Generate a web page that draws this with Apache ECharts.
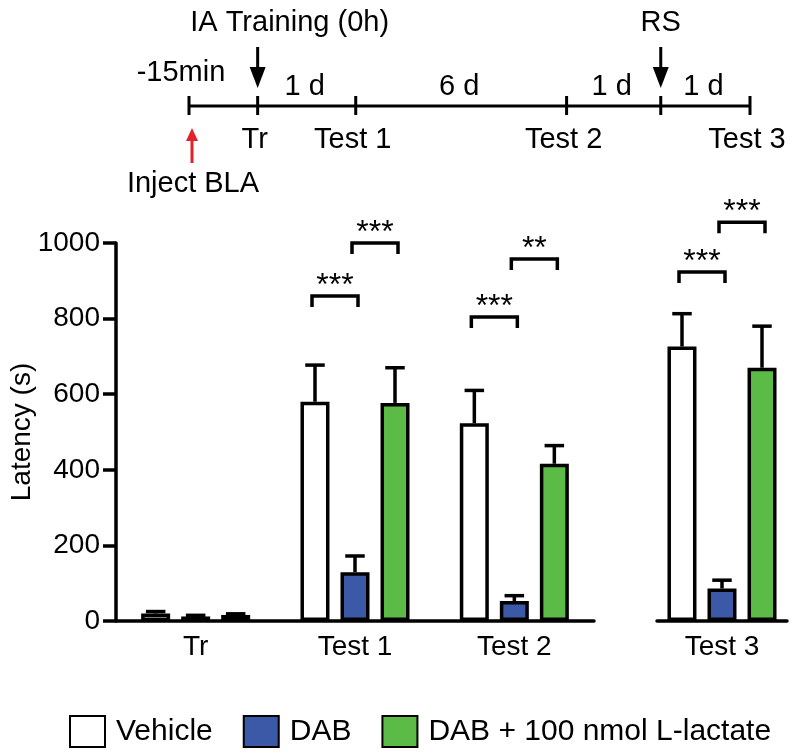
<!DOCTYPE html>
<html><head><meta charset="utf-8">
<script src="https://cdn.jsdelivr.net/npm/echarts@6/dist/echarts.min.js"></script>
<style>html,body{margin:0;padding:0;background:#fff}#c{width:798px;height:755px}</style>
</head><body><div id="c"></div>
<script>
// ---------- data ----------
const categoriesLeft = ['Tr', 'Test 1', 'Test 2'];
const categoriesRight = ['Test 3'];
const seriesNames = ['Vehicle', 'DAB', 'DAB + 100 nmol L-lactate'];
const vehicleMean = [20, 580, 523, 726];
const vehicleSem  = [5, 97, 87, 87];
const dabMean     = [12, 129, 53, 86];
const dabSem      = [3, 43, 14, 22];
const lactateMean = [16, 577, 416, 670];
const lactateSem  = [3, 93, 48, 110];
const yMin = 0, yMax = 1000, yStep = 200;
// significance brackets
const sigGroup  = [1, 1, 2, 2, 3, 3];
const sigFrom   = [0, 1, 0, 1, 0, 1];
const sigTo     = [1, 2, 1, 2, 1, 2];
const sigHeight = [860, 1000, 804, 958, 923, 1055];
const sigLabel  = ['***', '***', '***', '**', '***', '***'];
// timeline (schematic positions)
const timelineStops = [0, 0.70, 1.70, 3.85, 4.81, 5.72];
const timelineBelow = ['', 'Tr', 'Test 1', 'Test 2', '', 'Test 3'];
const timelineIntervals = ['', '1 d', '6 d', '1 d', '1 d'];
const timelineEvents = { 1: 'IA Training (0h)', 4: 'RS' };
const injectLabelTop = '-15min';
const injectLabelBottom = 'Inject BLA';

// ---------- styles ----------
const FONT = '"Liberation Sans", Arial, sans-serif';
const colors = ['#ffffff', '#3c59a8', '#5cba47'];
const means = [vehicleMean, dabMean, lactateMean];
const sems = [vehicleSem, dabSem, lactateSem];
const BAR_STEP = 40;

const chart = echarts.init(document.getElementById('c'));

function errRender(offset) {
  return function (params, api) {
    const cat = api.value(0), m = api.value(1), e = api.value(2);
    const p0 = api.coord([cat, m]);
    const p1 = api.coord([cat, m + e]);
    const x = p0[0] + offset;
    return {
      type: 'group', children: [
        { type: 'line', shape: { x1: x, y1: p0[1], x2: x, y2: p1[1] }, style: { stroke: '#000', lineWidth: 3.5 } },
        { type: 'line', shape: { x1: x - 8, y1: p1[1], x2: x + 8, y2: p1[1] }, style: { stroke: '#000', lineWidth: 3.5, lineCap: 'square' } }
      ]
    };
  };
}

function sigRender(params, api) {
  const cat = api.value(0), h = api.value(1), f = api.value(2), t = api.value(3);
  const p = api.coord([cat, h]);
  const x1 = p[0] + (f - 1) * BAR_STEP - 3;
  const x2 = p[0] + (t - 1) * BAR_STEP + 3;
  const y = p[1];
  const label = sigLabel[api.value(4)];
  return {
    type: 'group', children: [
      { type: 'polyline', shape: { points: [[x1, y + 11], [x1, y], [x2, y], [x2, y + 11]] },
        style: { stroke: '#000', lineWidth: 3.5, fill: null } },
      { type: 'text', style: { x: (x1 + x2) / 2, y: y - 10, text: label, align: 'center', verticalAlign: 'middle',
        font: '32px ' + FONT, fill: '#000' } }
    ]
  };
}

function timelineRender(params, api) {
  const i = params.dataIndex;
  const p = api.coord([api.value(0), 0]);
  const x = p[0], y = p[1];
  const children = [];
  const font = '29px ' + FONT;
  children.push({ type: 'line', shape: { x1: x, y1: y - 10, x2: x, y2: y + 9 }, style: { stroke: '#000', lineWidth: 3 } });
  if (i > 0) {
    const pp = api.coord([timelineStops[i - 1], 0]);
    children.push({ type: 'line', shape: { x1: pp[0], y1: y, x2: x, y2: y }, style: { stroke: '#000', lineWidth: 3 } });
    if (timelineIntervals[i - 1]) {
      children.push({ type: 'text', style: { x: (pp[0] + x) / 2 - 2, y: y - 19, text: timelineIntervals[i - 1], align: 'center', verticalAlign: 'middle', font: font, fill: '#000' } });
    }
  }
  if (timelineBelow[i]) {
    children.push({ type: 'text', style: { x: x - 3, y: y + 34, text: timelineBelow[i], align: 'center', verticalAlign: 'middle', font: font, fill: '#000' } });
  }
  if (i === 0) {
    children.push({ type: 'text', style: { x: x - 8, y: y - 33, text: injectLabelTop, align: 'center', verticalAlign: 'middle', font: font, fill: '#000' } });
    children.push({ type: 'line', shape: { x1: x + 3, y1: y + 57, x2: x + 3, y2: y + 30 }, style: { stroke: '#e3232c', lineWidth: 3 } });
    children.push({ type: 'polygon', shape: { points: [[x - 3, y + 35], [x + 9, y + 35], [x + 3, y + 22]] }, style: { fill: '#e3232c' } });
    children.push({ type: 'text', style: { x: x + 4, y: y + 78, text: injectLabelBottom, align: 'center', verticalAlign: 'middle', font: font, fill: '#000' } });
  }
  if (timelineEvents[i]) {
    children.push({ type: 'line', shape: { x1: x, y1: y - 59, x2: x, y2: y - 36 }, style: { stroke: '#000', lineWidth: 3 } });
    children.push({ type: 'polygon', shape: { points: [[x - 8, y - 39], [x + 8, y - 39], [x, y - 18]] }, style: { fill: '#000' } });
    const tx = i === 1 ? x + 32 : x;
    children.push({ type: 'text', style: { x: tx, y: y - 83, text: timelineEvents[i], align: 'center', verticalAlign: 'middle', font: font, fill: '#000' } });
  }
  return { type: 'group', children: children };
}

const series = [];
seriesNames.forEach(function (name, s) {
  const common = {
    name: name, type: 'bar', barWidth: 29, barGap: '38%', z: 3,
    itemStyle: { color: colors[s], borderColor: '#000', borderWidth: 3.5 },
    emphasis: { disabled: true }
  };
  series.push(Object.assign({}, common, { xAxisIndex: 0, yAxisIndex: 0, data: means[s].slice(0, 3) }));
  series.push(Object.assign({}, common, { xAxisIndex: 1, yAxisIndex: 1, data: means[s].slice(3) }));
  const errLeft = [], errRight = [];
  means[s].forEach(function (m, k) {
    if (k < 3) errLeft.push([k, m, sems[s][k]]); else errRight.push([k - 3, m, sems[s][k]]);
  });
  series.push({ type: 'custom', xAxisIndex: 0, yAxisIndex: 0, z: 2, silent: true, clip: false,
    renderItem: errRender((s - 1) * BAR_STEP), data: errLeft, encode: { x: 0, y: 1 } });
  series.push({ type: 'custom', xAxisIndex: 1, yAxisIndex: 1, z: 2, silent: true, clip: false,
    renderItem: errRender((s - 1) * BAR_STEP), data: errRight, encode: { x: 0, y: 1 } });
});

const sigLeft = [], sigRight = [];
sigGroup.forEach(function (g, k) {
  const row = [g < 3 ? g : g - 3, sigHeight[k], sigFrom[k], sigTo[k], k];
  if (g < 3) sigLeft.push(row); else sigRight.push(row);
});
series.push({ type: 'custom', xAxisIndex: 0, yAxisIndex: 0, silent: true, clip: false, renderItem: sigRender, data: sigLeft, encode: { x: 0, y: 1 } });
series.push({ type: 'custom', xAxisIndex: 1, yAxisIndex: 1, silent: true, clip: false, renderItem: sigRender, data: sigRight, encode: { x: 0, y: 1 } });

series.push({ type: 'custom', xAxisIndex: 2, yAxisIndex: 2, silent: true, clip: false, renderItem: timelineRender,
  data: timelineStops.map(function (v, i) { return [v, 0]; }), encode: { x: 0, y: 1 } });

const axisLine = { show: true, lineStyle: { color: '#000', width: 3.5 } };

chart.setOption({
  animation: false,
  backgroundColor: '#fff',
  textStyle: { fontFamily: FONT },
  legend: {
    data: seriesNames, left: 64, top: 710, itemWidth: 35, itemHeight: 31, itemGap: 30, icon: 'rect',
    selectedMode: false,
    textStyle: { fontSize: 30, color: '#000', fontFamily: FONT, padding: [0, 0, 0, 6] }
  },
  grid: [
    { left: 116, top: 243, width: 478, height: 378, containLabel: false, outerBoundsMode: 'none' },
    { left: 657, top: 243, width: 130, height: 378, containLabel: false, outerBoundsMode: 'none' },
    { left: 189, top: 100, width: 561, height: 12, containLabel: false, outerBoundsMode: 'none' }
  ],
  xAxis: [
    { type: 'category', gridIndex: 0, data: categoriesLeft, axisLine: axisLine, axisTick: { show: false },
      axisLabel: { fontSize: 28, color: '#000', margin: 12, fontFamily: FONT } },
    { type: 'category', gridIndex: 1, data: categoriesRight, axisLine: axisLine, axisTick: { show: false },
      axisLabel: { fontSize: 28, color: '#000', margin: 12, fontFamily: FONT } },
    { type: 'value', gridIndex: 2, min: 0, max: timelineStops[timelineStops.length - 1], show: false }
  ],
  yAxis: [
    { type: 'value', gridIndex: 0, min: yMin, max: yMax, interval: yStep, axisLine: axisLine,
      axisTick: { show: true, length: 13, lineStyle: { color: '#000', width: 3.5 } },
      splitLine: { show: false },
      axisLabel: { fontSize: 28, color: '#000', margin: 16, fontFamily: FONT, formatter: function (v) { return String(v); } },
      name: 'Latency (s)', nameLocation: 'middle', nameGap: 80, nameRotate: 90, nameMoveOverlap: false,
      nameTextStyle: { fontSize: 28, color: '#000', fontFamily: FONT } },
    { type: 'value', gridIndex: 1, min: yMin, max: yMax, interval: yStep, show: false, splitLine: { show: false } },
    { type: 'value', gridIndex: 2, min: -1, max: 1, show: false }
  ],
  series: series
});
</script>
</body></html>
